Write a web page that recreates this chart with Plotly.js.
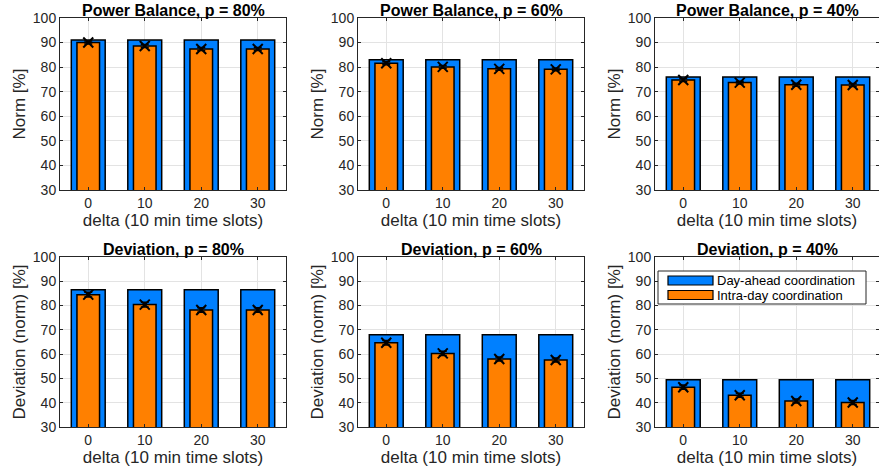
<!DOCTYPE html>
<html>
<head>
<meta charset="utf-8">
<script src="https://cdn.plot.ly/plotly-3.0.1.min.js"></script>
<style>html,body{margin:0;padding:0;background:#fff;}#chart{width:879px;height:470px;}</style>
</head>
<body>
<div id="chart"></div>
<script>
// ---- data ----
const deltas = [0, 10, 20, 30];
const tickLabels = ['0', '10', '20', '30'];
const seriesNames = ['Day-ahead coordination', 'Intra-day coordination'];
const panelTitles = ['Power Balance, p = 80%', 'Power Balance, p = 60%', 'Power Balance, p = 40%',
                     'Deviation, p = 80%', 'Deviation, p = 60%', 'Deviation, p = 40%'];
const yTitles = ['Norm [%]', 'Norm [%]', 'Norm [%]',
                 'Deviation (norm) [%]', 'Deviation (norm) [%]', 'Deviation (norm) [%]'];
// Day-ahead (blue) values per panel
const dayAheadPB80 = [91, 91, 91, 91];
const dayAheadPB60 = [83, 83, 83, 83];
const dayAheadPB40 = [76, 76, 76, 76];
const dayAheadDev80 = [86.5, 86.5, 86.5, 86.5];
const dayAheadDev60 = [68, 68, 68, 68];
const dayAheadDev40 = [49.5, 49.5, 49.5, 49.5];
// Intra-day (orange) values per panel
const intraPB80 = [90, 88.6, 87.4, 87.4];
const intraPB60 = [81.6, 80.1, 79.3, 79.1];
const intraPB40 = [74.8, 73.7, 72.8, 72.7];
const intraDev80 = [84.5, 80.4, 78.2, 78.2];
const intraDev60 = [64.7, 60.3, 58.0, 57.6];
const intraDev40 = [46.4, 43.1, 40.7, 40.1];
// error (half-range) for intra-day means
const errPB80 = [0.6, 0.6, 0.6, 0.6];
const errPB60 = [0.6, 0.6, 0.6, 0.6];
const errPB40 = [0.6, 0.6, 0.6, 0.6];
const errDev80 = [1.0, 1.0, 0.9, 0.9];
const errDev60 = [0.9, 0.9, 0.8, 0.8];
const errDev40 = [0.9, 0.8, 0.8, 0.8];

const dayAhead = [dayAheadPB80, dayAheadPB60, dayAheadPB40, dayAheadDev80, dayAheadDev60, dayAheadDev40];
const intra = [intraPB80, intraPB60, intraPB40, intraDev80, intraDev60, intraDev40];
const errs = [errPB80, errPB60, errPB40, errDev80, errDev60, errDev40];

// ---- layout geometry (pixels) ----
const W = 879, H = 470;
const colPx = [[60, 286], [358, 584], [655, 879]];
const rowPx = [[18, 190], [257, 427]];
const BLUE = '#0080FF', ORANGE = '#FF8000', INK = '#262626';
const FONT = 'Liberation Sans, Arial, Helvetica, sans-serif';

const traces = [];
const layout = {
  width: W, height: H,
  margin: {l: 0, r: 0, t: 0, b: 0},
  paper_bgcolor: '#fff', plot_bgcolor: '#fff',
  barmode: 'overlay',
  font: {family: FONT, size: 14, color: INK},
  showlegend: false,
  annotations: [],
  shapes: [],
};

for (let i = 0; i < 6; i++) {
  const r = Math.floor(i / 3), c = i % 3;
  const sfx = i === 0 ? '' : String(i + 1);
  const xa = 'x' + sfx, ya = 'y' + sfx;
  const [x0, x1] = colPx[c];
  const [y0, y1] = rowPx[r];
  const xr1 = -5 + (x1 - x0) / (226 / 40);
  layout['xaxis' + sfx] = {
    domain: [x0 / W, x1 / W], anchor: ya, range: [-5, xr1],
    tickvals: deltas, ticktext: tickLabels,
    showgrid: true, gridcolor: '#e3e3e3', gridwidth: 1,
    showline: true, linecolor: INK, linewidth: 1, mirror: 'ticks',
    ticks: 'inside', ticklen: 3, tickcolor: INK,
    zeroline: false, tickfont: {size: 14, color: INK},
    title: {text: 'delta (10 min time slots)', font: {size: 17, color: INK}, standoff: 0},
    fixedrange: true
  };
  layout['yaxis' + sfx] = {
    domain: [1 - y1 / H, 1 - y0 / H], anchor: xa, range: [30, 100],
    dtick: 10, tick0: 30,
    showgrid: true, gridcolor: '#e3e3e3', gridwidth: 1,
    showline: true, linecolor: INK, linewidth: 1, mirror: 'ticks',
    ticks: 'inside', ticklen: 3, tickcolor: INK,
    zeroline: false, tickfont: {size: 14, color: INK},
    title: {text: yTitles[i], font: {size: 17, color: INK}, standoff: 2},
    fixedrange: true
  };
  layout.annotations.push({
    text: '<b>' + panelTitles[i] + '</b>', xref: 'paper', yref: 'paper',
    x: (x0 + Math.min(x1, x0 + 226)) / 2 / W, y: 1 - y0 / H,
    xanchor: 'center', yanchor: 'bottom', showarrow: false, yshift: -3,
    font: {family: FONT, size: 16, color: '#000'}
  });
  traces.push({
    type: 'bar', x: deltas, y: dayAhead[i], width: 6, name: seriesNames[0],
    xaxis: xa, yaxis: ya, marker: {color: BLUE, line: {color: '#000', width: 1.5}},
    hoverinfo: 'x+y'
  });
  traces.push({
    type: 'bar', x: deltas, y: intra[i], width: 4, name: seriesNames[1],
    xaxis: xa, yaxis: ya, marker: {color: ORANGE, line: {color: '#000', width: 1.5}},
    hoverinfo: 'x+y'
  });
  traces.push({
    type: 'scatter', mode: 'markers', x: deltas, y: intra[i],
    xaxis: xa, yaxis: ya, name: seriesNames[1] + ' (mean)',
    marker: {symbol: 'x-thin', size: 10, color: '#000', line: {width: 2, color: '#000'}},
    error_y: {type: 'data', array: errs[i], visible: true, color: '#000', thickness: 1.5, width: 4}
  });
}

// ---- legend (drawn in the bottom-right panel, MATLAB style) ----
const lg = {x0: 658, x1: 866, y0: 271, y1: 304};
const px = (x) => x / W, py = (y) => 1 - y / H;
layout.shapes.push({type: 'rect', xref: 'paper', yref: 'paper',
  x0: px(lg.x0), x1: px(lg.x1), y0: py(lg.y1), y1: py(lg.y0),
  fillcolor: '#fff', line: {color: INK, width: 1}, layer: 'above'});
const swColors = [BLUE, ORANGE];
const rowsY = [[276, 285], [290.5, 299.5]];
for (let k = 0; k < 2; k++) {
  layout.shapes.push({type: 'rect', xref: 'paper', yref: 'paper',
    x0: px(668), x1: px(713), y0: py(rowsY[k][1]), y1: py(rowsY[k][0]),
    fillcolor: swColors[k], line: {color: '#000', width: 1.2}, layer: 'above'});
  layout.annotations.push({
    text: seriesNames[k], xref: 'paper', yref: 'paper',
    x: px(716), y: py((rowsY[k][0] + rowsY[k][1]) / 2),
    xanchor: 'left', yanchor: 'middle', showarrow: false, borderpad: 0,
    font: {family: FONT, size: 13, color: '#000'}
  });
}

Plotly.newPlot('chart', traces, layout, {staticPlot: true});
</script>
</body>
</html>
